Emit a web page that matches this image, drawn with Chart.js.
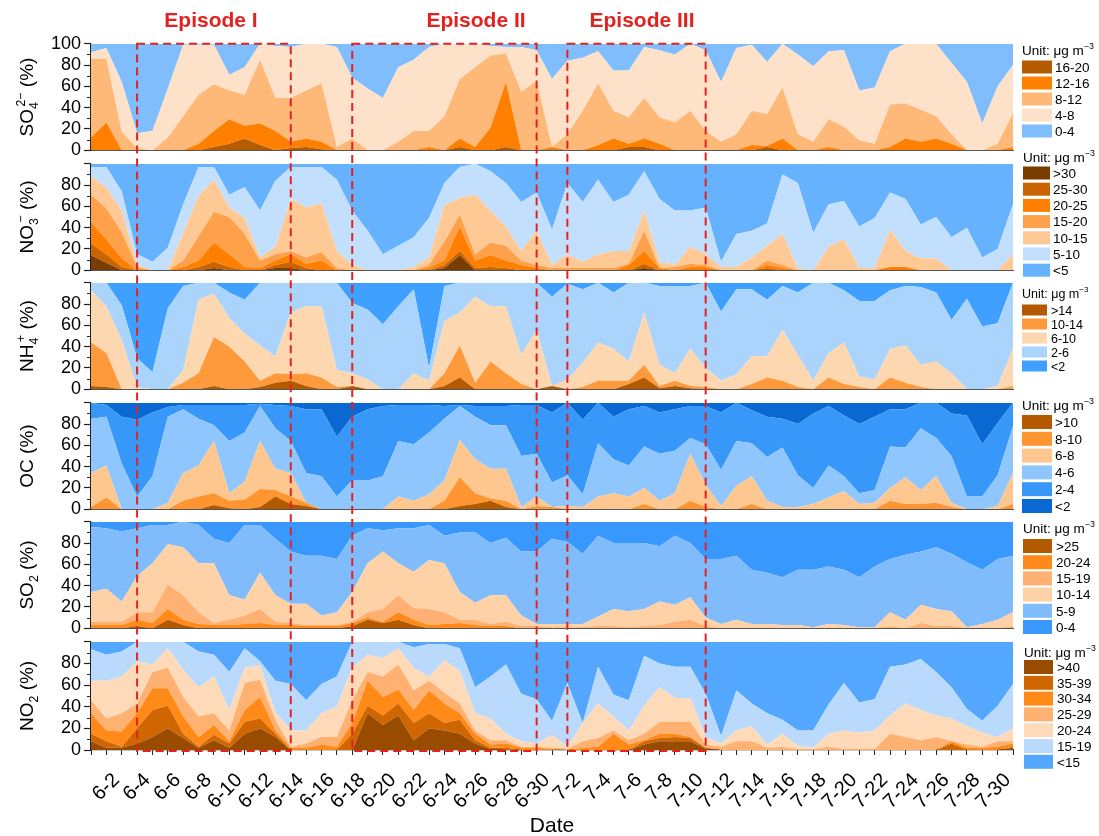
<!DOCTYPE html>
<html>
<head>
<meta charset="utf-8">
<script src="https://cdn.jsdelivr.net/npm/chart.js@4.4.1/dist/chart.umd.min.js"></script>
<style>
  body { margin: 0; background: #fff; }
  #wrap { position: relative; width: 1099px; height: 836px; overflow: hidden; }
  canvas.panel { position: absolute; left: 0; }
  #overlay { position: absolute; left: 0; top: 0; z-index: 10; pointer-events: none; }
</style>
</head>
<body>
<div id="wrap"><canvas id="overlay" width="1099" height="836"></canvas></div>
<script>
// days on the x axis
const dates = ['6-1','6-2','6-3','6-4','6-5','6-6','6-7','6-8','6-9','6-10',
  '6-11','6-12','6-13','6-14','6-15','6-16','6-17','6-18','6-19','6-20',
  '6-21','6-22','6-23','6-24','6-25','6-26','6-27','6-28','6-29','6-30',
  '7-1','7-2','7-3','7-4','7-5','7-6','7-7','7-8','7-9','7-10',
  '7-11','7-12','7-13','7-14','7-15','7-16','7-17','7-18','7-19','7-20',
  '7-21','7-22','7-23','7-24','7-25','7-26','7-27','7-28','7-29','7-30','7-31'];

// cumulative share (%) of each day at or above a concentration class
const so4Above16 = [0,0,0,0,0,0,0,0,3,6, 11,5,0,2,3,1,0,0,0,0, 0,0,0,0,3,0,0,3,0,0, 1,0,0,0,0,3,3,0,0,0, 0,0,0,0,3,0,0,0,0,0, 0,0,0,0,0,0,0,0,0,0, 0];
const so4Above12 = [12,26,0,0,0,0,0,6,18,29, 23,25,18,8,11,8,0,0,0,0, 0,0,3,0,11,3,21,64,0,0, 3,0,0,5,11,6,11,6,0,0, 0,0,0,5,4,11,0,0,3,0, 0,0,3,11,8,11,6,0,0,0, 3];
const so4Above8 = [86,86,17,2,0,12,32,52,62,56, 52,85,49,49,56,63,3,11,0,0, 8,18,18,32,67,78,89,91,55,65, 3,15,37,63,37,31,49,31,26,37, 18,8,15,37,34,59,15,8,29,22, 9,6,43,44,38,32,15,0,0,6, 35];
const so4Above4 = [92,96,64,16,18,58,99,99,99,71, 78,100,98,97,100,100,97,68,58,49, 78,85,97,100,99,100,98,97,97,94, 67,84,87,93,75,75,97,94,90,100, 94,64,96,99,83,100,90,79,93,94, 56,59,93,100,100,100,82,64,25,60, 80];

const no3Above30 = [14,7,0,0,0,0,0,0,2,0, 0,0,2,2,0,0,0,0,0,0, 0,0,0,2,14,0,0,0,0,0, 0,0,0,0,0,0,2,0,0,0, 0,0,0,0,0,0,0,0,0,0, 0,0,0,0,0,0,0,0,0,0, 0];
const no3Above25 = [25,15,3,0,0,0,0,3,8,3, 0,0,5,8,2,0,0,0,0,0, 0,0,0,5,18,2,3,2,0,0, 0,0,0,0,0,0,6,0,0,0, 0,0,0,0,2,0,0,0,0,0, 0,0,0,0,0,0,0,0,0,0, 0];
const no3Above20 = [45,29,11,0,0,0,3,9,26,15, 3,2,9,15,6,9,0,0,0,0, 0,0,2,9,41,9,14,9,5,2, 0,0,0,0,0,5,18,2,0,3, 3,0,0,0,5,2,0,0,0,0, 0,0,3,3,0,0,0,0,0,0, 0];
const no3Above15 = [71,58,36,3,0,0,9,32,55,50, 34,9,15,18,12,17,2,0,0,0, 0,0,5,27,52,15,26,23,9,5, 2,2,2,2,2,6,37,2,3,6, 5,0,0,0,9,5,0,0,0,0, 0,0,3,3,0,0,0,0,0,0, 0];
const no3Above10 = [88,78,56,5,0,0,35,70,85,59, 49,12,22,67,59,63,18,5,0,0, 0,3,12,61,68,71,56,41,18,37, 5,15,8,15,18,18,56,8,5,22, 15,3,3,12,23,34,2,0,22,29, 2,2,38,18,11,11,0,0,0,0, 15];
const no3Above5 = [97,97,74,15,8,21,62,97,97,71, 78,56,84,97,97,97,85,56,37,15, 23,31,49,82,97,100,93,82,64,73, 38,82,64,85,64,71,93,67,56,56, 59,8,34,37,44,90,82,35,62,65, 41,49,73,67,43,50,31,40,12,20, 62];

const nh4Above14 = [3,2,0,0,0,0,0,0,3,0, 0,2,6,8,3,0,0,3,0,0, 0,0,0,3,11,0,0,0,0,0, 3,0,0,0,0,5,11,1,3,1, 0,0,0,0,0,0,0,0,0,0, 0,0,0,0,0,0,0,0,0,0, 0];
const nh4Above10 = [44,34,0,0,0,0,6,15,49,40, 26,8,15,14,15,11,2,3,0,0, 0,0,0,15,41,6,26,15,5,0, 3,0,2,8,8,8,23,3,8,3, 2,0,0,5,11,8,2,0,11,5, 2,0,11,6,2,0,0,0,0,0, 3];
const nh4Above6 = [93,78,46,2,0,0,18,84,90,67, 52,41,31,72,78,78,18,15,9,0, 0,15,8,64,72,87,78,78,32,56, 3,9,25,44,38,26,72,23,15,38, 20,8,14,31,31,56,32,8,34,44, 12,9,38,41,23,26,15,0,0,3, 38];
const nh4Above2 = [100,100,79,29,16,76,97,100,100,91, 84,100,100,100,100,100,100,81,75,61, 78,94,20,97,100,100,100,100,100,100, 87,99,94,100,91,100,100,97,97,97, 100,73,94,94,84,97,91,100,100,93, 83,83,93,97,96,91,65,85,59,62, 100];

const ocAbove10 = [0,0,0,0,0,0,0,0,4,1, 0,2,12,5,3,0,0,0,0,0, 0,0,0,0,3,5,8,2,0,0, 0,0,0,0,0,0,0,0,0,0, 0,0,0,0,0,0,0,0,0,0, 0,0,0,0,0,0,0,0,0,0, 0];
const ocAbove8 = [2,11,0,0,0,0,8,12,15,8, 9,19,18,12,6,0,0,0,0,0, 0,0,0,8,30,15,10,8,0,3, 2,0,0,0,0,0,5,0,0,8, 2,0,0,5,0,0,0,0,0,0, 0,0,8,5,5,6,2,0,0,0, 5];
const ocAbove6 = [34,41,0,0,0,6,34,41,64,15, 26,64,38,34,6,0,0,0,0,0, 12,8,14,27,65,47,38,38,2,12, 2,3,2,12,15,12,20,8,15,52, 23,3,22,31,8,2,2,5,11,17, 5,6,20,30,18,31,6,0,0,3, 34];
const ocAbove4 = [85,87,43,12,31,87,94,85,79,64, 72,97,76,64,34,31,12,27,27,31, 64,61,72,85,97,87,79,79,50,52, 25,32,14,62,47,41,59,52,55,67, 61,37,64,62,49,58,32,20,41,31, 15,18,59,58,76,67,50,12,12,32, 78];
const ocAbove2 = [100,98,87,84,91,96,98,98,98,98, 98,99,98,97,94,94,68,87,94,97, 98,98,98,97,98,97,97,97,98,98, 91,100,84,100,87,94,97,91,94,97, 97,91,100,93,87,85,80,90,97,88, 80,87,94,94,100,100,90,88,61,81, 100];

const so2Above25 = [0,0,0,2,0,8,3,0,0,0, 0,0,0,0,0,0,0,2,8,5, 8,3,0,0,0,0,0,0,0,0, 0,0,0,0,0,0,0,0,0,0, 0,0,0,0,0,0,0,0,0,0, 0,0,0,0,0,0,0,0,0,0, 0];
const so2Above20 = [3,3,3,8,5,18,8,4,3,3, 4,5,3,3,2,2,2,5,10,6, 15,8,3,4,5,3,2,2,0,0, 0,0,0,0,0,0,0,0,0,0, 0,0,0,0,0,0,0,0,0,0, 0,0,0,0,0,0,0,0,0,0, 0];
const so2Above15 = [6,6,6,15,15,41,31,15,5,8, 12,18,6,5,3,3,3,6,15,18, 31,19,18,15,8,8,4,6,2,2, 1,1,1,2,2,1,2,3,6,8, 2,0,0,0,0,0,0,0,0,0, 0,0,2,0,5,2,2,0,0,0, 2];
const so2Above10 = [34,37,25,49,61,79,76,61,61,31, 27,52,31,23,23,12,15,34,61,72, 61,53,64,61,34,24,31,31,12,4, 4,4,4,11,18,16,18,25,22,29, 10,4,8,4,4,3,3,1,4,3, 1,1,15,8,22,18,16,1,4,8, 15];
const so2Above5 = [95,94,91,94,97,97,100,97,84,80, 97,97,84,72,68,68,65,87,94,92, 94,94,97,87,90,90,80,85,72,72, 84,81,70,87,80,80,80,77,87,80, 65,65,68,55,52,48,55,55,58,55, 48,58,65,69,72,76,70,62,55,65, 68];

const no2Above40 = [8,2,2,6,12,20,11,2,9,2, 15,20,12,0,0,0,0,0,34,23, 32,9,20,18,15,6,1,0,0,0, 0,0,0,0,0,0,5,8,8,8, 1,0,0,0,0,0,0,0,0,0, 0,0,0,0,0,0,0,0,0,0, 2];
const no2Above35 = [15,8,3,20,37,41,15,3,14,6, 26,29,15,0,0,0,0,15,41,32, 43,25,34,25,28,9,2,2,0,0, 0,0,0,0,0,0,8,11,12,11, 2,0,0,0,0,0,0,0,0,0, 0,0,0,0,0,0,6,0,0,0, 3];
const no2Above30 = [34,18,17,34,57,57,31,12,23,8, 37,49,18,2,2,5,3,25,64,49, 56,37,55,43,34,15,5,6,2,2, 1,0,2,3,15,5,9,15,15,12, 2,0,0,0,0,0,0,0,0,0, 0,0,0,0,0,0,8,2,2,3, 6];
const no2Above25 = [46,29,34,43,72,76,49,31,34,18, 62,65,28,3,6,12,12,46,72,68, 79,55,64,53,43,18,9,9,3,3, 2,1,8,11,18,9,15,26,26,26, 5,3,8,8,2,3,1,1,3,1, 1,1,15,12,9,12,8,5,3,8, 8];
const no2Above20 = [64,64,68,82,79,94,74,58,68,37, 76,78,35,18,18,34,40,76,88,85, 94,76,68,83,73,34,29,15,8,6, 14,3,25,43,31,18,41,58,48,48, 12,6,18,22,5,15,4,2,15,18, 16,18,32,43,37,32,29,22,16,12, 20];
const no2Above15 = [93,88,91,100,100,100,100,91,88,72, 94,82,64,61,46,61,68,100,100,100, 100,95,98,98,94,58,68,79,52,47, 27,62,25,77,51,46,87,80,77,77, 52,13,55,43,34,28,18,18,42,62, 44,47,77,79,84,72,58,38,27,41, 61];

// legend classes (highest first, i.e. bottom band first) and their colours
const so4Labels = ['16-20','12-16','8-12','4-8','0-4'];
const so4Colors = ['#b65c00','#ff8000','#feb877','#fde1c8','#80bdfd'];
const no3Labels = ['>30','25-30','20-25','15-20','10-15','5-10','<5'];
const no3Colors = ['#7a3d00','#c96400','#ff8000','#ffa14a','#fec994','#c2e0fe','#66b2ff'];
const nh4Labels = ['>14','10-14','6-10','2-6','<2'];
const nh4Colors = ['#b35a00','#ff9a3c','#fdd7b0','#aad4fc','#40a0ff'];
const ocLabels = ['>10','8-10','6-8','4-6','2-4','<2'];
const ocColors = ['#b35a00','#ff9530','#fec790','#90c6fe','#3898fa','#0a68d2'];
const so2Labels = ['>25','20-24','15-19','10-14','5-9','0-4'];
const so2Colors = ['#b35a00','#ff8a1a','#feb172','#fed1a6','#80bcfc','#3898fd'];
const no2Labels = ['>40','35-39','30-34','25-29','20-24','15-19','<15'];
const no2Colors = ['#994c00','#d06600','#ff8a18','#feb170','#fedab8','#b9dafd','#53a7fe'];

const episodeNames = ['Episode I','Episode II','Episode III'];
const episodeStart = ['6-4','6-18','7-2'];
const episodeEnd = ['6-14','6-30','7-11'];

const yTicksMinor = [10, 30, 50, 70, 90];

// layout
const FONT = '"Liberation Sans", Arial, Helvetica, sans-serif';
const W = 1099, H = 836;
const PLOT_LEFT = 91, PLOT_RIGHT = 1013, PLOT_H = 110, PAD = 12;
const panelTops = [42, 162, 281, 401, 520, 640];
const episodeLabelX = [211, 476, 642];
const RED = '#e3211f';

Chart.defaults.font.family = FONT;

const panels = [
  { title: [['SO',''],['4','sub'],['2\u2212','sup'],[' (%)','']], bounds: [so4Above16, so4Above12, so4Above8, so4Above4], colors: so4Colors, labels: so4Labels, showTop: true,
    legend: { unitY: 50, firstY: 67, step: 16, swX: 1022, swW: 30, swH: 13, txtX: 1055, fs: 13.5 } },
  { title: [['NO',''],['3','sub'],['\u2212','sup'],[' (%)','']], bounds: [no3Above30, no3Above25, no3Above20, no3Above15, no3Above10, no3Above5], colors: no3Colors, labels: no3Labels,
    legend: { unitY: 157, firstY: 173, step: 16.2, swX: 1023, swW: 27, swH: 13, txtX: 1053, fs: 13.5 } },
  { title: [['NH',''],['4','sub'],['+','sup'],[' (%)','']], bounds: [nh4Above14, nh4Above10, nh4Above6, nh4Above2], colors: nh4Colors, labels: nh4Labels,
    legend: { unitY: 293, firstY: 310, step: 14, swX: 1022, swW: 25, swH: 11, txtX: 1051, fs: 12.5 } },
  { title: [['OC (%)','']], bounds: [ocAbove10, ocAbove8, ocAbove6, ocAbove4, ocAbove2], colors: ocColors, labels: ocLabels,
    legend: { unitY: 405, firstY: 422, step: 16.8, swX: 1022, swW: 30, swH: 14, txtX: 1055, fs: 13.5 } },
  { title: [['SO',''],['2','sub'],[' (%)','']], bounds: [so2Above25, so2Above20, so2Above15, so2Above10, so2Above5], colors: so2Colors, labels: so2Labels,
    legend: { unitY: 528, firstY: 546, step: 16.2, swX: 1023, swW: 29, swH: 14, txtX: 1056, fs: 13.5 } },
  { title: [['NO',''],['2','sub'],[' (%)','']], bounds: [no2Above40, no2Above35, no2Above30, no2Above25, no2Above20, no2Above15], colors: no2Colors, labels: no2Labels,
    legend: { unitY: 652, firstY: 667, step: 15.8, swX: 1024, swW: 29, swH: 14, txtX: 1057, fs: 13.5 } }
];

const minorTicks = {
  id: 'minorTicks',
  afterDraw(chart) {
    const { ctx, chartArea } = chart;
    const y = chart.scales.y;
    ctx.save();
    ctx.strokeStyle = '#222';
    ctx.lineWidth = 1;
    yTicksMinor.forEach(v => {
      const py = Math.round(y.getPixelForValue(v)) + 0.5;
      ctx.beginPath();
      ctx.moveTo(chartArea.left - 4, py);
      ctx.lineTo(chartArea.left, py);
      ctx.stroke();
    });
    ctx.restore();
  }
};

const wrap = document.getElementById('wrap');
const charts = [];
const canvasTops = [];

panels.forEach((p, k) => {
  const isLast = k === panels.length - 1;
  const top = panelTops[k] - PAD;
  const h = isLast ? H - top : PLOT_H + 2 * PAD;
  const cv = document.createElement('canvas');
  cv.className = 'panel';
  cv.width = W;
  cv.height = h;
  cv.style.top = top + 'px';
  wrap.insertBefore(cv, document.getElementById('overlay'));
  canvasTops.push(top);

  const datasets = p.bounds.map((b, j) => ({
    data: b,
    backgroundColor: p.colors[j],
    borderWidth: 0,
    pointRadius: 0,
    fill: j === 0 ? 'origin' : '-1'
  }));
  // lowest class fills from the last boundary to 100 %
  datasets.push({
    data: p.bounds[p.bounds.length - 1],
    backgroundColor: p.colors[p.colors.length - 1],
    borderWidth: 0,
    pointRadius: 0,
    fill: 'end'
  });

  const xScale = isLast ? {
    ticks: { display: false, autoSkip: false },
    grid: { display: true, drawOnChartArea: false, drawTicks: true, tickLength: 5, tickColor: '#222' },
    border: { color: '#222', width: 1.2 },
    afterFit: s => { s.height = h - PAD - PLOT_H; }
  } : {
    ticks: { display: false },
    grid: { display: false },
    border: { color: '#555', width: 1 },
    afterFit: s => { s.height = 0; }
  };

  const chart = new Chart(cv, {
    type: 'line',
    data: { labels: dates, datasets: datasets },
    options: {
      responsive: false,
      animation: false,
      devicePixelRatio: 1,
      layout: { padding: { top: PAD, bottom: isLast ? 0 : PAD, left: 0, right: W - PLOT_RIGHT } },
      plugins: { legend: { display: false }, tooltip: { enabled: false } },
      elements: { line: { tension: 0, borderWidth: 0 }, point: { radius: 0 } },
      scales: {
        x: xScale,
        y: {
          min: 0, max: 100,
          ticks: {
            stepSize: 20, autoSkip: false, padding: 3, color: '#000', font: { size: 18 },
            callback: v => (v === 100 && !p.showTop ? '' : v)
          },
          grid: { drawOnChartArea: false, drawTicks: true, tickLength: 7, tickColor: '#222', tickWidth: 1.2 },
          border: { color: '#222', width: 1.2 },
          afterFit: s => { s.width = PLOT_LEFT; }
        }
      }
    },
    plugins: [minorTicks]
  });
  charts.push(chart);
});

// text with sub/superscripts, measured then drawn from x0 along the baseline
function layoutRich(ctx, segs, size) {
  const parts = [];
  let w = 0;
  segs.forEach(([t, kind]) => {
    const fs = kind ? size * 0.65 : size;
    ctx.font = fs + 'px ' + FONT;
    const tw = ctx.measureText(t).width;
    const prev = parts[parts.length - 1];
    if (kind === 'sup' && prev && prev.kind === 'sub') {
      parts.push({ t, kind, fs, x: prev.x + prev.w * 0.35 });
      w = Math.max(w, prev.x + prev.w * 0.35 + tw);
    } else {
      parts.push({ t, kind, fs, x: w, w: tw });
      w += tw;
    }
  });
  return { parts, w };
}

function drawRich(ctx, lay, x0, y0, size) {
  lay.parts.forEach(pt => {
    ctx.font = pt.fs + 'px ' + FONT;
    let dy = 0;
    if (pt.kind === 'sub') dy = size * 0.28;
    if (pt.kind === 'sup') dy = -size * 0.42;
    ctx.fillText(pt.t, x0 + pt.x, y0 + dy);
  });
}

const octx = document.getElementById('overlay').getContext('2d');
octx.fillStyle = '#000';
octx.textBaseline = 'alphabetic';

// y axis titles and legends
panels.forEach((p, k) => {
  const ca = charts[k].chartArea;
  const cy = canvasTops[k] + (ca.top + ca.bottom) / 2;
  const size = 19;
  const lay = layoutRich(octx, p.title, size);
  octx.save();
  octx.translate(26, cy);
  octx.rotate(-Math.PI / 2);
  octx.fillStyle = '#000';
  drawRich(octx, lay, -lay.w / 2, size * 0.36, size);
  octx.restore();

  const lg = p.legend;
  octx.fillStyle = '#000';
  const unit = layoutRich(octx, [['Unit: \u03bcg m',''],['\u22123','sup']], lg.fs);
  drawRich(octx, unit, lg.swX, lg.unitY + lg.fs * 0.36, lg.fs);
  p.labels.forEach((lab, j) => {
    const yc = lg.firstY + j * lg.step;
    octx.fillStyle = p.colors[j];
    octx.fillRect(lg.swX, yc - lg.swH / 2, lg.swW, lg.swH);
    octx.fillStyle = '#000';
    octx.font = lg.fs + 'px ' + FONT;
    octx.fillText(lab, lg.txtX, yc + lg.fs * 0.36);
  });
});

// date labels under the last panel, every second day, rotated
const lastChart = charts[charts.length - 1];
const xs = lastChart.scales.x;
const axisY = canvasTops[charts.length - 1] + lastChart.chartArea.bottom;
octx.save();
octx.fillStyle = '#000';
octx.font = '20px ' + FONT;
octx.textAlign = 'right';
octx.textBaseline = 'middle';
dates.forEach((d, i) => {
  if (i % 2 !== 1) return;
  octx.save();
  octx.translate(xs.getPixelForValue(i) + 10, axisY + 27);
  octx.rotate(-Math.PI / 4);
  octx.fillText(d, 0, 0);
  octx.restore();
});
octx.textAlign = 'center';
octx.font = '21px ' + FONT;
octx.fillText('Date', (xs.left + xs.right) / 2, 826);
octx.restore();

// episode boxes, dashed red
const boxTop = canvasTops[0] + charts[0].chartArea.top;
const boxBottom = axisY + 1;
octx.save();
octx.strokeStyle = RED;
octx.lineWidth = 2;
octx.setLineDash([8, 5]);
episodeNames.forEach((name, e) => {
  const x1 = xs.getPixelForValue(dates.indexOf(episodeStart[e]));
  const x2 = xs.getPixelForValue(dates.indexOf(episodeEnd[e]));
  octx.strokeRect(x1, boxTop, x2 - x1, boxBottom - boxTop);
});
octx.restore();

octx.fillStyle = RED;
octx.font = 'bold 21px ' + FONT;
octx.textAlign = 'center';
octx.textBaseline = 'middle';
episodeNames.forEach((name, e) => {
  octx.fillText(name, episodeLabelX[e], 21);
});
</script>
</body>
</html>
